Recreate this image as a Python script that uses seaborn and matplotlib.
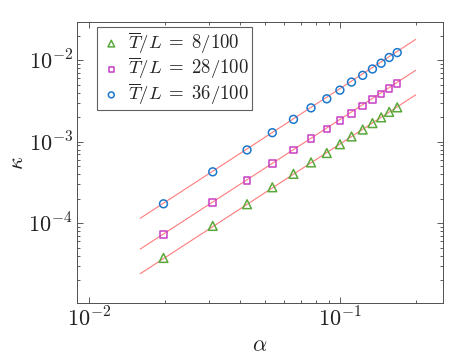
import numpy as np
import seaborn as sns
from matplotlib import pyplot as plt
import matplotlib.ticker as ticker

# alpha values (shared by all three series)
alpha = [0.0198, 0.0311, 0.0426, 0.0537, 0.0652, 0.0766, 0.0885,
         0.0998, 0.111, 0.123, 0.1345, 0.1457, 0.1568, 0.1688]

kappa_8 = [3.75e-5, 9.27e-5, 1.71e-4, 2.76e-4, 4.03e-4, 5.57e-4, 7.26e-4,
           9.31e-4, 1.16e-3, 1.41e-3, 1.69e-3, 1.99e-3, 2.32e-3, 2.64e-3]
kappa_28 = [7.29e-5, 1.80e-4, 3.33e-4, 5.42e-4, 7.93e-4, 1.10e-3, 1.43e-3,
            1.81e-3, 2.23e-3, 2.75e-3, 3.29e-3, 3.87e-3, 4.47e-3, 5.15e-3]
kappa_36 = [1.73e-4, 4.27e-4, 7.93e-4, 1.29e-3, 1.88e-3, 2.60e-3, 3.36e-3,
            4.29e-3, 5.39e-3, 6.52e-3, 7.80e-3, 9.18e-3, 1.08e-2, 1.24e-2]

# fitted lines (endpoints)
fit_x = [0.016, 0.2]
fit_8 = [2.40e-5, 3.76e-3]
fit_28 = [4.82e-5, 7.52e-3]
fit_36 = [1.15e-4, 1.80e-2]

labels = [r'$\overline{T}/L\;=\;8/100$', r'$\overline{T}/L\;=\;28/100$',
          r'$\overline{T}/L\;=\;36/100$']

sns.set_theme(style='ticks')
plt.rcParams['mathtext.fontset'] = 'cm'
plt.rcParams['font.family'] = ['DejaVu Serif']
plt.rcParams['xtick.direction'] = 'in'
plt.rcParams['ytick.direction'] = 'in'

fig = plt.figure(figsize=(4.57, 3.59), dpi=100)
ax = fig.add_axes([0.1685, 0.156, 0.801, 0.783])

series = [
    (kappa_8, fit_8, '^', '#5aa83a', 40),
    (kappa_28, fit_28, 's', '#c63fc6', 22),
    (kappa_36, fit_36, 'o', '#1a78cc', 32),
]

for ky, fy, mk, col, sz in series:
    sns.lineplot(x=fit_x, y=fy, ax=ax, color='#ff7b7b', lw=0.8, zorder=1)

handles = []
for ky, fy, mk, col, sz in series:
    sns.scatterplot(x=alpha, y=ky, ax=ax, marker=mk, s=sz, zorder=3)
    coll = ax.collections[-1]
    coll.set_facecolor('none')
    coll.set_edgecolor(col)
    coll.set_linewidth(1.1)
    handles.append(coll)

ax.set_xscale('log')
ax.set_yscale('log')
ax.set_xlim(0.00896, 0.257)
ax.set_ylim(1.05e-5, 0.0295)

fmt = ticker.FuncFormatter(lambda v, _: f'$10^{{{int(round(np.log10(v)))}}}$')
for axis in (ax.xaxis, ax.yaxis):
    axis.set_major_locator(ticker.LogLocator(base=10, numticks=10))
    axis.set_major_formatter(fmt)
    axis.set_minor_locator(ticker.LogLocator(base=10, subs=np.arange(2, 10), numticks=20))
    axis.set_minor_formatter(ticker.NullFormatter())

ax.tick_params(which='both', top=True, right=True, colors='#404040',
               labelcolor='#222222', width=0.6)
ax.tick_params(which='major', length=4, labelsize=16, pad=3)
ax.tick_params(which='minor', length=2)
for sp in ax.spines.values():
    sp.set_color('#505050')
    sp.set_linewidth(0.7)

ax.set_xlabel(r'$\alpha$', fontsize=16, color='#222222', labelpad=2)
ax.set_ylabel(r'$\kappa$', fontsize=16, color='#222222', labelpad=0)

leg = ax.legend(handles, labels, loc='upper left', fontsize=13.5,
                bbox_to_anchor=(0.045, 0.995), markerscale=0.75,
                fancybox=False, framealpha=1, edgecolor='#606060',
                handletextpad=0.3, handlelength=1.2, borderpad=0.15,
                labelspacing=0.0, borderaxespad=0.2)
leg.get_frame().set_linewidth(0.8)

fig.savefig('out.png', dpi=100)
